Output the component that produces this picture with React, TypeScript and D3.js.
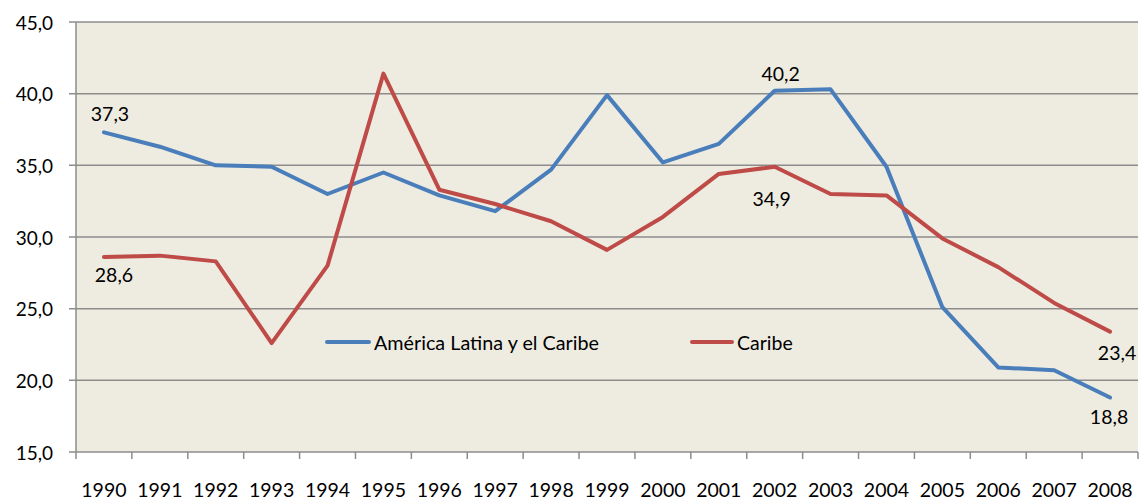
import React from "react";
import * as d3 from "d3";

const years = ["1990","1991","1992","1993","1994","1995","1996","1997","1998","1999","2000","2001","2002","2003","2004","2005","2006","2007","2008"];
const latamValues = [37.3,36.3,35.0,34.9,33.0,34.5,32.9,31.8,34.7,39.9,35.2,36.5,40.2,40.3,34.9,25.1,20.9,20.7,18.8];
const caribeValues = [28.6,28.7,28.3,22.6,28.0,41.4,33.3,32.3,31.1,29.1,31.4,34.4,34.9,33.0,32.9,29.9,27.9,25.4,23.4];
const yTicks = [15,20,25,30,35,40,45];
const seriesNames = ["América Latina y el Caribe", "Caribe"];

const W = 1139, H = 502;
const left = 76, right = 1138, top = 22, bottom = 452;
const BLUE = "#4A7EBB", RED = "#BE4B48";

export default function App() {
  const x = d3.scaleBand<string>().domain(years).range([left, right]);
  const y = d3.scaleLinear().domain([15, 45]).range([bottom, top]);
  const cx = (i: number) => (x(years[i]) as number) + x.bandwidth() / 2;
  const line = d3.line<number>().x((_, i) => cx(i)).y((v) => y(v));
  const fmt = (v: number) => v.toFixed(1).replace(".", ",");
  const font = "Lato, 'Open Sans', sans-serif";
  const n = years.length - 1;

  const labels = [
    { v: latamValues[0], i: 0, dx: 6, dy: -19 },
    { v: caribeValues[0], i: 0, dx: 10, dy: 17 },
    { v: latamValues[12], i: 12, dx: 6, dy: -17 },
    { v: caribeValues[12], i: 12, dx: -3, dy: 32 },
    { v: caribeValues[n], i: n, dx: 7, dy: 21 },
    { v: latamValues[n], i: n, dx: -1, dy: 19 },
  ];

  return (
    <svg width={W} height={H} style={{ position: "absolute", left: 0, top: 0, display: "block" }} fontFamily={font}>
      <rect x={0} y={0} width={W} height={H} fill="#ffffff" />
      <rect x={left} y={top} width={right - left} height={bottom - top} fill="#EEECE1" />
      {yTicks.map((t) => (
        <g key={t}>
          <line x1={left - 7} x2={right} y1={y(t)} y2={y(t)} stroke="#8C8C8C" strokeWidth={1.5} />
          <text x={53} y={y(t)} textAnchor="end" dominantBaseline="central" fontSize={19} fill="#000">{fmt(t)}</text>
        </g>
      ))}
      <line x1={left} x2={left} y1={top} y2={bottom} stroke="#8C8C8C" strokeWidth={1.5} />
      {years.map((yr, i) => (
        <g key={yr}>
          <line x1={(x(yr) as number) + x.bandwidth()} x2={(x(yr) as number) + x.bandwidth()} y1={bottom} y2={bottom + 7} stroke="#8C8C8C" strokeWidth={1.5} />
          <text x={cx(i)} y={497} textAnchor="middle" fontSize={19.5} fill="#000">{yr}</text>
        </g>
      ))}
      <line x1={left} x2={left} y1={bottom} y2={bottom + 7} stroke="#8C8C8C" strokeWidth={1.5} />
      <path d={line(latamValues) as string} fill="none" stroke={BLUE} strokeWidth={4} strokeLinejoin="round" strokeLinecap="round" />
      <path d={line(caribeValues) as string} fill="none" stroke={RED} strokeWidth={4} strokeLinejoin="round" strokeLinecap="round" />
      {labels.map((l, k) => (
        <text key={k} x={cx(l.i) + l.dx} y={y(l.v) + l.dy} textAnchor="middle" dominantBaseline="central" fontSize={19.5} fill="#000">{fmt(l.v)}</text>
      ))}
      <g>
        <line x1={327} x2={369} y1={342} y2={342} stroke={BLUE} strokeWidth={4} strokeLinecap="round" />
        <text x={374} y={342} dominantBaseline="central" fontSize={19.5} fill="#000" textLength={225} lengthAdjust="spacingAndGlyphs">{seriesNames[0]}</text>
        <line x1={692} x2={732} y1={342} y2={342} stroke={RED} strokeWidth={4} strokeLinecap="round" />
        <text x={737} y={342} dominantBaseline="central" fontSize={19.5} fill="#000">{seriesNames[1]}</text>
      </g>
    </svg>
  );
}
